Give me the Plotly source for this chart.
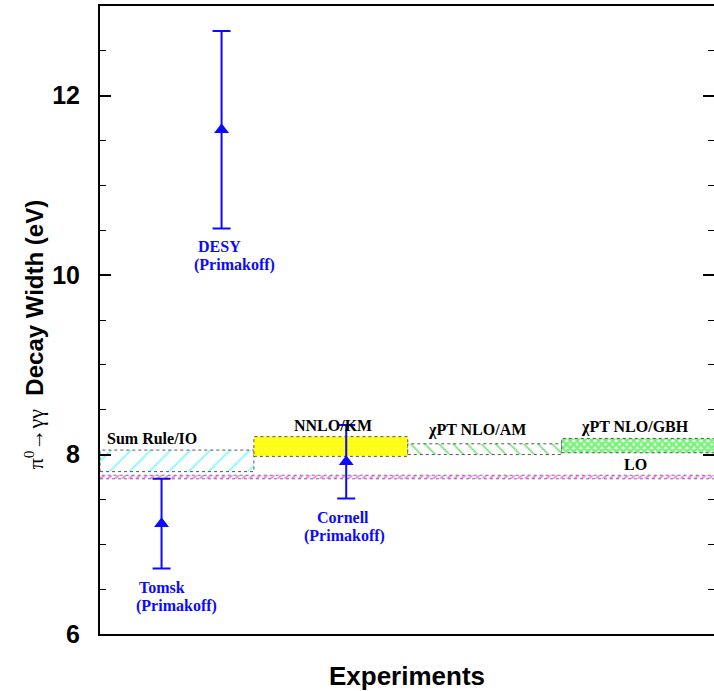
import plotly.graph_objects as go

# ---------------- data ----------------
exp_names = ["Tomsk", "DESY", "Cornell"]
exp_method = ["(Primakoff)", "(Primakoff)", "(Primakoff)"]
exp_x = [0.40, 0.79, 1.60]
exp_val = [7.23, 11.62, 7.92]
exp_err = [0.50, 1.10, 0.41]

theory_names = ["Sum Rule/IO", "NNLO/KM", "χPT NLO/AM", "χPT NLO/GBH"]
theory_x0 = [0, 1, 2, 3]
theory_x1 = [1, 2, 3, 4]
theory_low = [7.81, 7.98, 8.00, 8.02]
theory_high = [8.05, 8.20, 8.12, 8.18]

lo_name = "LO"
lo_x0, lo_x1 = 0, 4
lo_low, lo_high = 7.73, 7.77

y_ticks = [6, 8, 10, 12]

# ---------------- styles ----------------
band_styles = [
    dict(shape="/", fgcolor="#00f0ff", bgcolor="white", size=14, solidity=0.12),
    dict(shape=".", fgcolor="#ffffa0", bgcolor="#ffff00", size=4, solidity=0.35),
    dict(shape="\\", fgcolor="#00cc00", bgcolor="white", size=10, solidity=0.18),
    dict(shape="x", fgcolor="#00e600", bgcolor="#f0fff0", size=5, solidity=0.75),
]
blue = "#0a0aff"
serif = "Liberation Serif, Times New Roman, serif"
sans = "Liberation Sans, Arial, sans-serif"
lab_size = 16

fig = go.Figure()

# LO band
fig.add_trace(go.Scatter(
    x=[lo_x0, lo_x1, lo_x1, lo_x0, lo_x0],
    y=[lo_low, lo_low, lo_high, lo_high, lo_low],
    mode="lines", fill="toself", fillcolor="white",
    fillpattern=dict(shape="/", fgcolor="#ff00ff", bgcolor="white", size=5, solidity=0.45),
    line=dict(color="#777777", width=1, dash="dot"),
    hoverinfo="skip", showlegend=False))

# theory bands
for i, name in enumerate(theory_names):
    x0, x1 = theory_x0[i], theory_x1[i]
    lo, hi = theory_low[i], theory_high[i]
    fig.add_trace(go.Scatter(
        x=[x0, x1, x1, x0, x0], y=[lo, lo, hi, hi, lo],
        mode="lines", fill="toself", fillcolor=band_styles[i]["bgcolor"],
        fillpattern=band_styles[i],
        line=dict(color="#555555", width=1, dash="dot"),
        hoverinfo="skip", showlegend=False, name=name))

# experiments
fig.add_trace(go.Scatter(
    x=exp_x, y=exp_val, mode="markers",
    marker=dict(symbol="triangle-up", size=13, color=blue),
    error_y=dict(type="data", array=exp_err, color=blue, thickness=2, width=9),
    showlegend=False))

# invisible trace for right-side ticks
fig.add_trace(go.Scatter(x=[0], y=[6], yaxis="y2", mode="markers",
                         marker=dict(opacity=0), showlegend=False, hoverinfo="skip"))

# experiment labels
name_dx = [0, -2, -3]
meth_dx = [15, 13, -2]
for i, name in enumerate(exp_names):
    y0 = exp_val[i] - exp_err[i]
    fig.add_annotation(x=exp_x[i], y=y0, xref="x", yref="y",
                       text=f"<b>{name}</b>", showarrow=False,
                       font=dict(family=serif, size=lab_size, color=blue),
                       yshift=-8, yanchor="top", xanchor="center", xshift=name_dx[i])
    fig.add_annotation(x=exp_x[i], y=y0, xref="x", yref="y",
                       text=f"<b>{exp_method[i]}</b>", showarrow=False,
                       font=dict(family=serif, size=lab_size, color=blue),
                       yshift=-26, yanchor="top", xanchor="center", xshift=meth_dx[i])

# theory labels
label_x = [0.34, 1.516, 2.447, 3.474]
label_dy = [1, 1, 3, 0]
for i, name in enumerate(theory_names):
    fig.add_annotation(x=label_x[i], y=theory_high[i], xref="x", yref="y",
                       text=f"<b>{name}</b>", showarrow=False,
                       font=dict(family=serif, size=lab_size, color="black"),
                       yanchor="bottom", yshift=label_dy[i])
fig.add_annotation(x=3.48, y=lo_high, xref="x", yref="y", text=f"<b>{lo_name}</b>",
                   showarrow=False, font=dict(family=serif, size=lab_size, color="black"),
                   yanchor="bottom", yshift=0)

# y title
fig.add_annotation(
    xref="paper", yref="y", x=0, y=9.33, xshift=-66,
    text="<span style='font-family:Liberation Serif;font-size:22px;font-weight:normal'>π<sup>0</sup>→γγ</span>  <b>Decay Width (eV)</b>",
    textangle=-90, showarrow=False, xanchor="center", yanchor="middle",
    font=dict(family=sans, size=24, color="black"))

fig.update_layout(
    width=714, height=691,
    margin=dict(l=100, r=0, t=6, b=57),
    paper_bgcolor="white", plot_bgcolor="white",
    showlegend=False,
    xaxis=dict(range=[0, 3.99], showgrid=False, zeroline=False, showticklabels=False,
               ticks="", showline=True, linecolor="black", linewidth=2, mirror=True,
               title=dict(text="<b>Experiments</b>", font=dict(family=sans, size=26, color="black"),
                          standoff=32)),
    yaxis=dict(range=[6, 13], showgrid=False, zeroline=False, tickmode="array",
               tickvals=y_ticks, ticktext=[f"<b>{t}</b>" for t in y_ticks],
               ticks="inside", ticklen=11, tickwidth=1.5, tickcolor="black",
               minor=dict(dtick=0.5, tick0=6, ticks="inside", ticklen=6, tickwidth=1, tickcolor="black"),
               tickfont=dict(family=sans, size=25, color="black"), ticklabelstandoff=13,
               showline=True, linecolor="black", linewidth=2, layer="above traces"),
    yaxis2=dict(range=[6, 13], overlaying="y", side="right", showgrid=False, zeroline=False,
                showticklabels=False, tickmode="array", tickvals=y_ticks,
                ticks="inside", ticklen=11, tickwidth=1.5, tickcolor="black",
                minor=dict(dtick=0.5, tick0=6, ticks="inside", ticklen=6, tickwidth=1, tickcolor="black"),
                showline=False, layer="above traces"),
)

fig.write_html("out.html", config={"displayModeBar": False},
               post_script="document.body.style.margin='0px'; document.body.style.overflow='hidden';")
